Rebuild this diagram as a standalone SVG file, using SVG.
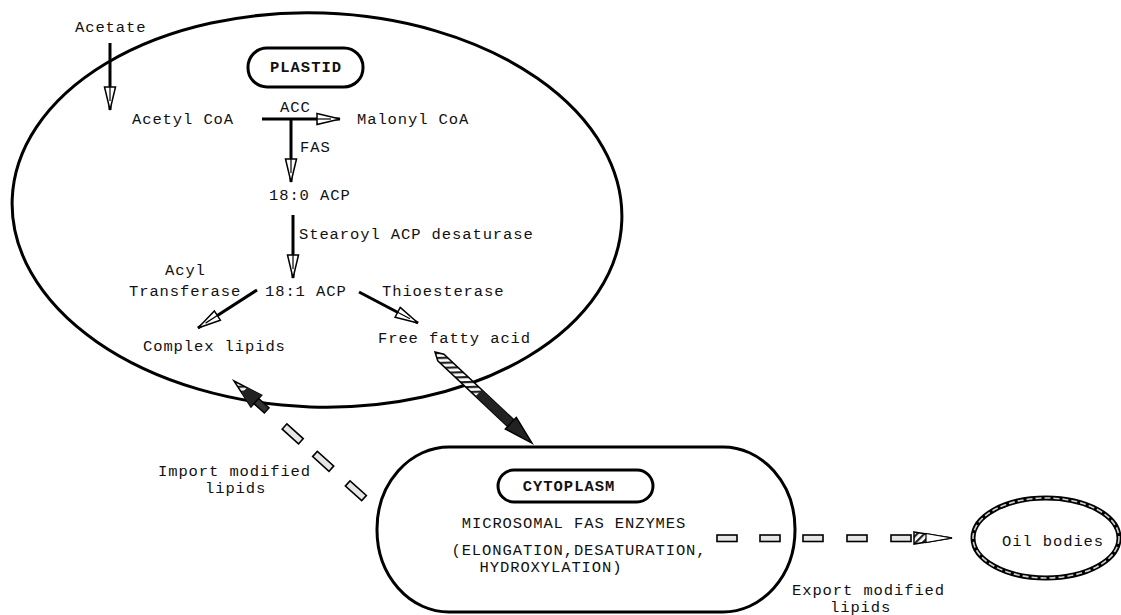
<svg xmlns="http://www.w3.org/2000/svg" width="1121" height="615" viewBox="0 0 1121 615">
<style>
.t{font-family:"Liberation Mono","DejaVu Sans Mono",monospace;font-size:15.5px;letter-spacing:0.9px;fill:#111}
.b{font-family:"Liberation Mono","DejaVu Sans Mono",monospace;font-size:15.5px;letter-spacing:1px;font-weight:bold;fill:#111}
.shape{fill:none;stroke:#000;stroke-width:3}
.shaft{stroke:#000;stroke-width:3;fill:none}
.dash{fill:#e6e6e6;stroke:#000;stroke-width:1.6}
</style>
<defs>
<marker id="hollow" markerUnits="userSpaceOnUse" markerWidth="26" markerHeight="14" refX="23" refY="6" orient="auto" overflow="visible">
<path d="M0,0.5 L23,6 L0,11.5 Z" fill="#fff" stroke="#000" stroke-width="1.5"/>
<path d="M0,6 L14,6" stroke="#000" stroke-width="1.2"/>
</marker>
<pattern id="hatch" patternUnits="userSpaceOnUse" width="5" height="5" patternTransform="rotate(45)">
<rect width="5" height="5" fill="#fff"/>
<rect width="2.2" height="5" fill="#222"/>
</pattern>
</defs>

<g id="plastid">
<ellipse class="shape" cx="317" cy="210" rx="305" ry="197" transform="rotate(2 317 210)"/>
<rect class="shape" x="248" y="48" width="115" height="39" rx="19"/>
<text class="b" x="306" y="72" text-anchor="middle">PLASTID</text>
</g>

<g id="acetate"><text class="t" x="75" y="32">Acetate</text></g>
<g id="acetyl-coa"><text class="t" x="132" y="124">Acetyl CoA</text></g>
<g id="malonyl-coa"><text class="t" x="357" y="124">Malonyl CoA</text></g>
<g id="acp-18-0"><text class="t" x="269" y="200">18:0 ACP</text></g>
<g id="acp-18-1"><text class="t" x="265" y="296">18:1 ACP</text></g>
<g id="complex-lipids"><text class="t" x="143" y="351">Complex lipids</text></g>
<g id="free-fatty-acid"><text class="t" x="378" y="343">Free fatty acid</text></g>

<g id="cytoplasm">
<rect class="shape" x="377" y="447" width="418" height="165" rx="72" ry="82"/>
<rect class="shape" x="498" y="470" width="155" height="32" rx="16"/>
<text class="b" x="569" y="491" text-anchor="middle">CYTOPLASM</text>
<text class="t" x="574" y="528" text-anchor="middle">MICROSOMAL FAS ENZYMES</text>
<text class="t" x="579" y="555" text-anchor="middle">(ELONGATION,DESATURATION,</text>
<text class="t" x="551" y="572" text-anchor="middle">HYDROXYLATION)</text>
</g>

<g id="oil-bodies">
<ellipse cx="1046" cy="538" rx="73" ry="40" fill="none" stroke="#000" stroke-width="5"/>
<ellipse cx="1046" cy="538" rx="73" ry="40" fill="none" stroke="#cfcfcf" stroke-width="1.6" stroke-dasharray="6 3"/>
<text class="t" x="1002" y="546">Oil bodies</text>
</g>

<g id="connectors">
<line class="shaft" x1="110" y1="43" x2="110" y2="110" marker-end="url(#hollow)"/>
<line class="shaft" x1="262" y1="119" x2="340" y2="119" marker-end="url(#hollow)"/>
<line class="shaft" x1="291" y1="119" x2="291" y2="182" marker-end="url(#hollow)"/>
<line class="shaft" x1="293" y1="215" x2="293" y2="278" marker-end="url(#hollow)"/>
<line class="shaft" x1="257" y1="290" x2="198" y2="328" marker-end="url(#hollow)"/>
<line class="shaft" x1="359" y1="292" x2="418" y2="323" marker-end="url(#hollow)"/>

<text class="t" x="280" y="112">ACC</text>
<text class="t" x="300" y="152">FAS</text>
<text class="t" x="299" y="239">Stearoyl ACP desaturase</text>
<text class="t" x="165" y="275">Acyl</text>
<text class="t" x="129" y="296">Transferase</text>
<text class="t" x="382" y="296">Thioesterase</text>

<g id="ffa-export" transform="translate(435 352) rotate(43.2)">
<path d="M0,0 L8,-4.5 L108,-4.5 L108,4.5 L8,4.5 Z" fill="url(#hatch)" stroke="#000" stroke-width="1.5"/>
<rect x="60" y="-4.5" width="48" height="9" fill="#222"/>
<path d="M104,-8 L133,0 L104,8 Z" fill="#222" stroke="#000" stroke-width="1.5"/>
</g>

<g id="import" transform="translate(234 381) rotate(42)">
<path d="M0,0 L30,-8 L30,8 Z" fill="url(#hatch)" stroke="#000" stroke-width="1.5"/>
<path d="M14,-4 L30,-8 L30,8 L14,4 Z" fill="#222"/>
<rect x="30" y="-3.5" width="14" height="7" fill="#333" stroke="#000" stroke-width="1.5"/>
<rect class="dash" x="68" y="-3.5" width="22" height="7"/>
<rect class="dash" x="109" y="-3.5" width="22" height="7"/>
<rect class="dash" x="153" y="-3.5" width="22" height="7"/>
</g>
<text class="t" x="158" y="476">Import modified</text>
<text class="t" x="205" y="493">lipids</text>

<g id="export">
<rect class="dash" x="717" y="535" width="20" height="6.5"/>
<rect class="dash" x="760" y="535" width="20" height="6.5"/>
<rect class="dash" x="803" y="535" width="20" height="6.5"/>
<rect class="dash" x="847" y="535" width="20" height="6.5"/>
<rect class="dash" x="891" y="535" width="20" height="6.5"/>
<path d="M914,532 L952,538 L914,544 Z" fill="url(#hatch)" stroke="#000" stroke-width="1.5"/>
<path d="M926,533.5 L952,538 L926,542.5 Z" fill="#fff" stroke="#000" stroke-width="1.2"/>
</g>
<text class="t" x="792" y="595">Export modified</text>
<text class="t" x="830" y="612">lipids</text>
</g>
</svg>
